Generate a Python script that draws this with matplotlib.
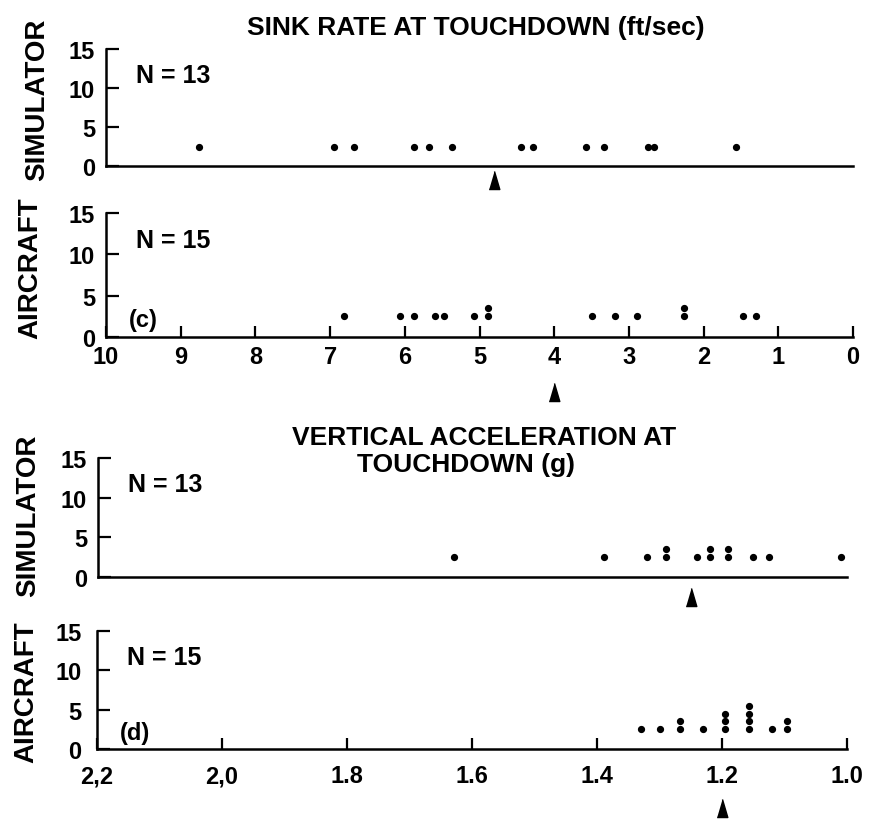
import numpy as np
import matplotlib
matplotlib.use('Agg')
import matplotlib.pyplot as plt
from matplotlib.transforms import blended_transform_factory

plt.rcParams['font.family'] = ['Liberation Sans', 'DejaVu Sans']
plt.rcParams['font.weight'] = 'bold'

# Sink rate at touchdown (ft/sec), one entry per landing
sink_simulator = [8.76, 6.95, 6.68, 5.88, 5.68, 5.37, 4.45, 4.29, 3.58, 3.34, 2.75, 2.66, 1.56]
sink_aircraft = [6.82, 6.07, 5.88, 5.59, 5.48, 5.08, 4.89, 4.89, 3.50, 3.18, 2.89,
                 2.26, 2.26, 1.47, 1.30]
sink_mean_simulator = 4.8
sink_mean_aircraft = 4.0
sink_ticks = [10, 9, 8, 7, 6, 5, 4, 3, 2, 1, 0]
sink_ticklabels = ['10', '9', '8', '7', '6', '5', '4', '3', '2', '1', '0']

# Vertical acceleration at touchdown (g)
accel_simulator = [1.63, 1.39, 1.32, 1.29, 1.29, 1.24, 1.22, 1.22, 1.19, 1.19,
                   1.15, 1.125, 1.01]
accel_aircraft = [1.33, 1.30, 1.267, 1.267, 1.23, 1.195, 1.195, 1.195,
                  1.157, 1.157, 1.157, 1.157, 1.12, 1.096, 1.096]
accel_mean_simulator = 1.25
accel_mean_aircraft = 1.2
accel_ticks = [2.2, 2.0, 1.8, 1.6, 1.4, 1.2, 1.0]
accel_ticklabels = ['2,2', '2,0', '1.8', '1.6', '1.4', '1.2', '1.0']

y_ticks = [0, 5, 10, 15]

W, H = 869, 820
fig = plt.figure(figsize=(W / 100, H / 100), dpi=100)

ARROW = [(-1, -1.7), (1, -1.7), (0, 1.7)]


def px_axes(left, top, right, bottom):
    return fig.add_axes([left / W, 1 - bottom / H, (right - left) / W, (bottom - top) / H])


def stack(values, base=2.5, step=1.0):
    seen = {}
    ys = []
    for v in values:
        n = seen.get(v, 0)
        ys.append(base + n * step)
        seen[v] = n + 1
    return ys


def panel(ax, values, mean, xlim, arrow_y, n_text, ypad, show_x=False,
          ticks=None, labels=None, xpad=6, letter=None):
    ax.plot(values, stack(values), 'o', color='black', markersize=4.2, clip_on=False)
    for s in ['top', 'right']:
        ax.spines[s].set_visible(False)
    for s in ['left', 'bottom']:
        ax.spines[s].set_linewidth(1.8)
    ax.set_xlim(*xlim)
    ax.set_ylim(0, 15)
    ax.set_yticks(y_ticks)
    ax.tick_params(axis='y', direction='in', length=9, width=1.6, labelsize=17, pad=ypad)
    if show_x:
        ax.set_xticks(ticks)
        ax.set_xticklabels(labels)
        ax.tick_params(axis='x', direction='in', length=8, width=1.6, labelsize=17, pad=xpad)
    else:
        ax.set_xticks([])
    trans = blended_transform_factory(ax.transData, ax.transAxes)
    ax.plot([mean], [arrow_y], marker=ARROW, markersize=13, color='black',
            transform=trans, clip_on=False)
    ax.text(0.04, 0.78, n_text, transform=ax.transAxes, fontsize=18, va='center')
    if letter:
        ax.text(0.03, 0.14, letter, transform=ax.transAxes, fontsize=17, va='center')


ax_a = px_axes(106, 50, 853, 167)
panel(ax_a, sink_simulator, sink_mean_simulator, (10, 0), -0.12, 'N = 13', 8)

ax_c = px_axes(106, 214, 853, 338)
panel(ax_c, sink_aircraft, sink_mean_aircraft, (10, 0), -0.44, 'N = 15', 8, True,
      sink_ticks, sink_ticklabels, 6, '(c)')

ax_b = px_axes(98, 459, 847, 578)
panel(ax_b, accel_simulator, accel_mean_simulator, (2.2, 1.0), -0.17, 'N = 13', 8)

ax_d = px_axes(97, 632, 847, 750)
panel(ax_d, accel_aircraft, accel_mean_aircraft, (2.2, 1.0), -0.5, 'N = 15', 11, True,
      accel_ticks, accel_ticklabels, 11, '(d)')

# side labels
fig.text(37 / W, 1 - 100 / H, 'SIMULATOR', rotation=90, fontsize=20, ha='center', va='center')
fig.text(30 / W, 1 - 268 / H, 'AIRCRAFT', rotation=90, fontsize=20, ha='center', va='center')
fig.text(28 / W, 1 - 516 / H, 'SIMULATOR', rotation=90, fontsize=20, ha='center', va='center')
fig.text(26 / W, 1 - 692 / H, 'AIRCRAFT', rotation=90, fontsize=20, ha='center', va='center')

# titles
fig.text(476 / W, 1 - 28 / H, 'SINK RATE AT TOUCHDOWN (ft/sec)', fontsize=19,
         ha='center', va='center')
fig.text(484 / W, 1 - 438 / H, 'VERTICAL ACCELERATION AT', fontsize=19,
         ha='center', va='center')
fig.text(466 / W, 1 - 465 / H, 'TOUCHDOWN (g)', fontsize=19, ha='center', va='center')

fig.savefig('out.png', dpi=100)
